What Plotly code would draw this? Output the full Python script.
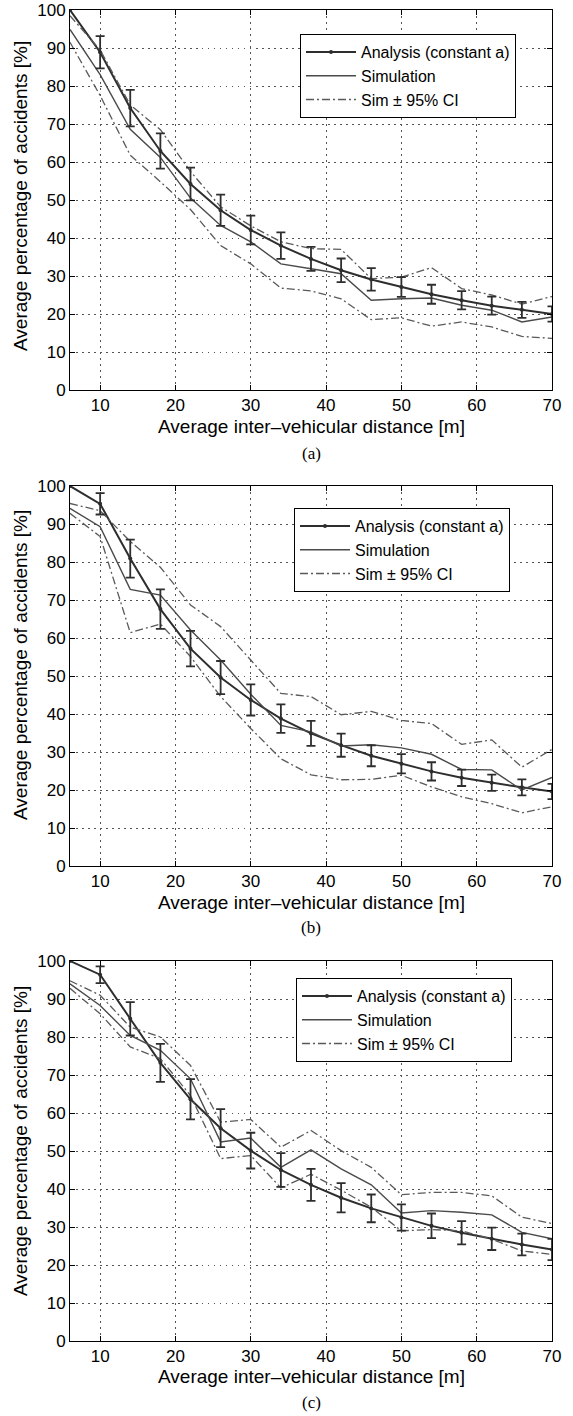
import plotly.graph_objects as go

# ---------------- data ----------------
distance = [6, 10, 14, 18, 22, 26, 30, 34, 38, 42, 46, 50, 54, 58, 62, 66, 70]
err_x = distance[1:]

# (a)
ana_a = [100, 88.9, 74.2, 62.9, 54.2, 47.3, 42.1, 38.0, 34.5, 31.5, 29.1, 27.1, 25.2, 23.6, 22.2, 21.1, 20.0]
err_a = [4.25, 4.8, 4.65, 4.3, 4.1, 3.8, 3.5, 3.15, 3.1, 2.95, 2.6, 2.5, 2.4, 2.35, 2.1, 2.0]
sim_a = [94.9, 83.0, 68.6, 61.2, 50.5, 43.3, 39.0, 33.2, 31.9, 30.6, 23.6, 24.0, 24.2, 22.3, 21.0, 17.9, 19.2]
up_a = [98.5, 89.5, 75.0, 68.5, 57.5, 48.2, 43.2, 39.0, 37.2, 37.0, 29.3, 29.7, 32.2, 26.7, 25.0, 22.6, 24.6]
lo_a = [91.5, 77.5, 61.8, 54.8, 47.5, 38.0, 33.2, 26.8, 26.1, 24.0, 18.5, 19.0, 16.8, 17.9, 16.6, 14.1, 13.6]

# (b)
ana_b = [100, 95.3, 80.9, 67.6, 57.2, 49.6, 43.7, 38.8, 34.9, 31.8, 29.0, 26.9, 24.9, 23.2, 21.9, 20.7, 19.6]
err_b = [2.8, 5.0, 5.2, 4.65, 4.35, 4.1, 3.75, 3.3, 3.05, 2.75, 2.55, 2.4, 2.15, 2.15, 2.1, 2.0]
sim_b = [94.1, 89.3, 72.8, 71.3, 62.1, 54.2, 45.2, 37.0, 35.3, 31.6, 31.9, 31.1, 29.4, 25.4, 25.3, 20.0, 23.3]
up_b = [95.4, 93.5, 85.4, 78.6, 68.7, 63.0, 54.2, 45.4, 44.6, 39.8, 40.7, 38.3, 37.5, 32.0, 33.2, 26.0, 30.7]
lo_b = [92.8, 86.7, 61.4, 63.7, 55.1, 44.6, 36.2, 28.2, 24.0, 22.7, 22.8, 23.9, 20.8, 18.2, 16.4, 14.0, 15.6]

# (c)
ana_c = [100, 96.4, 84.8, 73.2, 63.6, 56.0, 50.1, 45.0, 41.1, 37.7, 34.9, 32.5, 30.3, 28.5, 26.9, 25.4, 24.1]
err_c = [2.2, 4.4, 5.0, 5.3, 5.0, 4.7, 4.45, 4.2, 3.85, 3.65, 3.45, 3.25, 3.05, 2.95, 2.85, 2.8]
sim_c = [94.0, 88.3, 80.4, 76.5, 69.0, 52.4, 53.4, 45.7, 50.3, 45.3, 41.1, 33.7, 34.3, 33.9, 33.2, 28.6, 26.9]
up_c = [94.8, 91.0, 82.6, 80.0, 72.5, 57.6, 58.3, 51.0, 55.4, 50.1, 45.7, 38.5, 39.1, 39.1, 38.2, 32.6, 30.9]
lo_c = [92.8, 86.1, 77.4, 74.3, 64.6, 48.0, 48.8, 40.3, 43.9, 39.7, 35.2, 29.0, 29.3, 29.0, 26.8, 23.7, 22.8]

x_ticks = [10, 20, 30, 40, 50, 60, 70]
y_ticks = [0, 10, 20, 30, 40, 50, 60, 70, 80, 90, 100]

panels = [
    ("(a)", ana_a, err_a, sim_a, up_a, lo_a),
    ("(b)", ana_b, err_b, sim_b, up_b, lo_b),
    ("(c)", ana_c, err_c, sim_c, up_c, lo_c),
]

# ---------------- layout geometry (pixels) ----------------
W, H = 573, 1416
ML, MR, MT, MB = 70, 21, 10, 75
PH = H - MT - MB
PW = W - ML - MR
plot_tops = [10, 486, 961]
plot_h = 380
xtitle_px = [426.7, 902.3, 1376.7]
caption_px = [453, 927, 1402]
ytitle_px = [196, 665, 1141]
legend_px = [(300, 34), (294, 508), (296, 978)]


def fy(p):
    return 1 - (p - MT) / PH


def fx(p):
    return (p - ML) / PW


SANS = "Liberation Sans, Arial, Helvetica, sans-serif"
SERIF = "Liberation Serif, Times New Roman, serif"
DARK = "#2e2e2e"
MID = "#4a4a4a"

fig = go.Figure()
annotations = []
for i, (cap, ana, err, sim, up, lo) in enumerate(panels):
    n = "" if i == 0 else str(i + 1)
    xa, ya = "x" + n, "y" + n
    leg = "legend" + n
    fig.add_trace(go.Scatter(x=distance, y=ana, mode="lines+markers", name="Analysis (constant a)",
                             line=dict(color=DARK, width=2), marker=dict(size=4, color=DARK),
                             xaxis=xa, yaxis=ya, legend=leg))
    fig.add_trace(go.Scatter(x=distance, y=sim, mode="lines", name="Simulation",
                             line=dict(color=MID, width=1.4), xaxis=xa, yaxis=ya, legend=leg))
    fig.add_trace(go.Scatter(x=distance, y=up, mode="lines", name="Sim \u00b1 95% CI",
                             line=dict(color="#5a5a5a", width=1.3, dash="8px,3px,2px,3px"),
                             xaxis=xa, yaxis=ya, legend=leg, legendgroup="ci" + n))
    fig.add_trace(go.Scatter(x=distance, y=lo, mode="lines", name="Sim \u00b1 95% CI", showlegend=False,
                             line=dict(color="#5a5a5a", width=1.3, dash="8px,3px,2px,3px"),
                             xaxis=xa, yaxis=ya, legend=leg, legendgroup="ci" + n))
    fig.add_trace(go.Scatter(x=err_x, y=ana[1:], mode="markers", showlegend=False,
                             marker=dict(size=3, color=DARK),
                             error_y=dict(type="data", array=err, visible=True, color=DARK,
                                          thickness=1.8, width=4.5),
                             xaxis=xa, yaxis=ya))

    top = plot_tops[i]
    dom = [fy(top + plot_h), fy(top)]
    axis_common = dict(showline=True, linecolor="black", linewidth=1, mirror="ticks",
                       ticks="inside", ticklen=5, tickcolor="black", tickwidth=1,
                       showgrid=True, gridcolor="#555555", gridwidth=1, griddash="1.5px,4.5px",
                       zeroline=False, tickfont=dict(family=SANS, size=17, color="black"))
    fig.update_layout(**{
        "xaxis" + n: dict(domain=[0, 1], range=[6, 70], tickmode="array", tickvals=x_ticks,
                          anchor=ya, **axis_common),
        "yaxis" + n: dict(domain=dom, range=[0, 100], tickmode="array", tickvals=y_ticks,
                          anchor=xa, **axis_common),
    })
    lx, ly = legend_px[i]
    fig.update_layout(**{
        leg: dict(x=fx(lx), y=fy(ly), xanchor="left", yanchor="top", xref="paper", yref="paper",
                  bgcolor="white", bordercolor="black", borderwidth=1,
                  font=dict(family=SANS, size=16, color="black"),
                  tracegroupgap=0, itemwidth=50)
    })
    annotations.append(dict(text="Average inter\u2013vehicular distance [m]", x=0.5, y=fy(xtitle_px[i]),
                            xref="paper", yref="paper", showarrow=False, xanchor="center", yanchor="middle",
                            font=dict(family=SANS, size=19, color="black")))
    annotations.append(dict(text="Average percentage of accidents [%]", x=fx(20), y=fy(ytitle_px[i]),
                            xref="paper", yref="paper", showarrow=False, xanchor="center", yanchor="middle",
                            textangle=-90, font=dict(family=SANS, size=19, color="black")))
    annotations.append(dict(text=cap, x=0.5, y=fy(caption_px[i]), xref="paper", yref="paper",
                            showarrow=False, xanchor="center", yanchor="middle",
                            font=dict(family=SERIF, size=17, color="black")))

fig.update_layout(width=W, height=H, margin=dict(l=ML, r=MR, t=MT, b=MB, autoexpand=False),
                  plot_bgcolor="white", paper_bgcolor="white", annotations=annotations,
                  showlegend=True)

fig.write_html("out.html", config={"displayModeBar": False},
               post_script="document.body.style.margin='0px';document.body.style.padding='0px';"
                           "document.body.style.overflow='hidden';")
